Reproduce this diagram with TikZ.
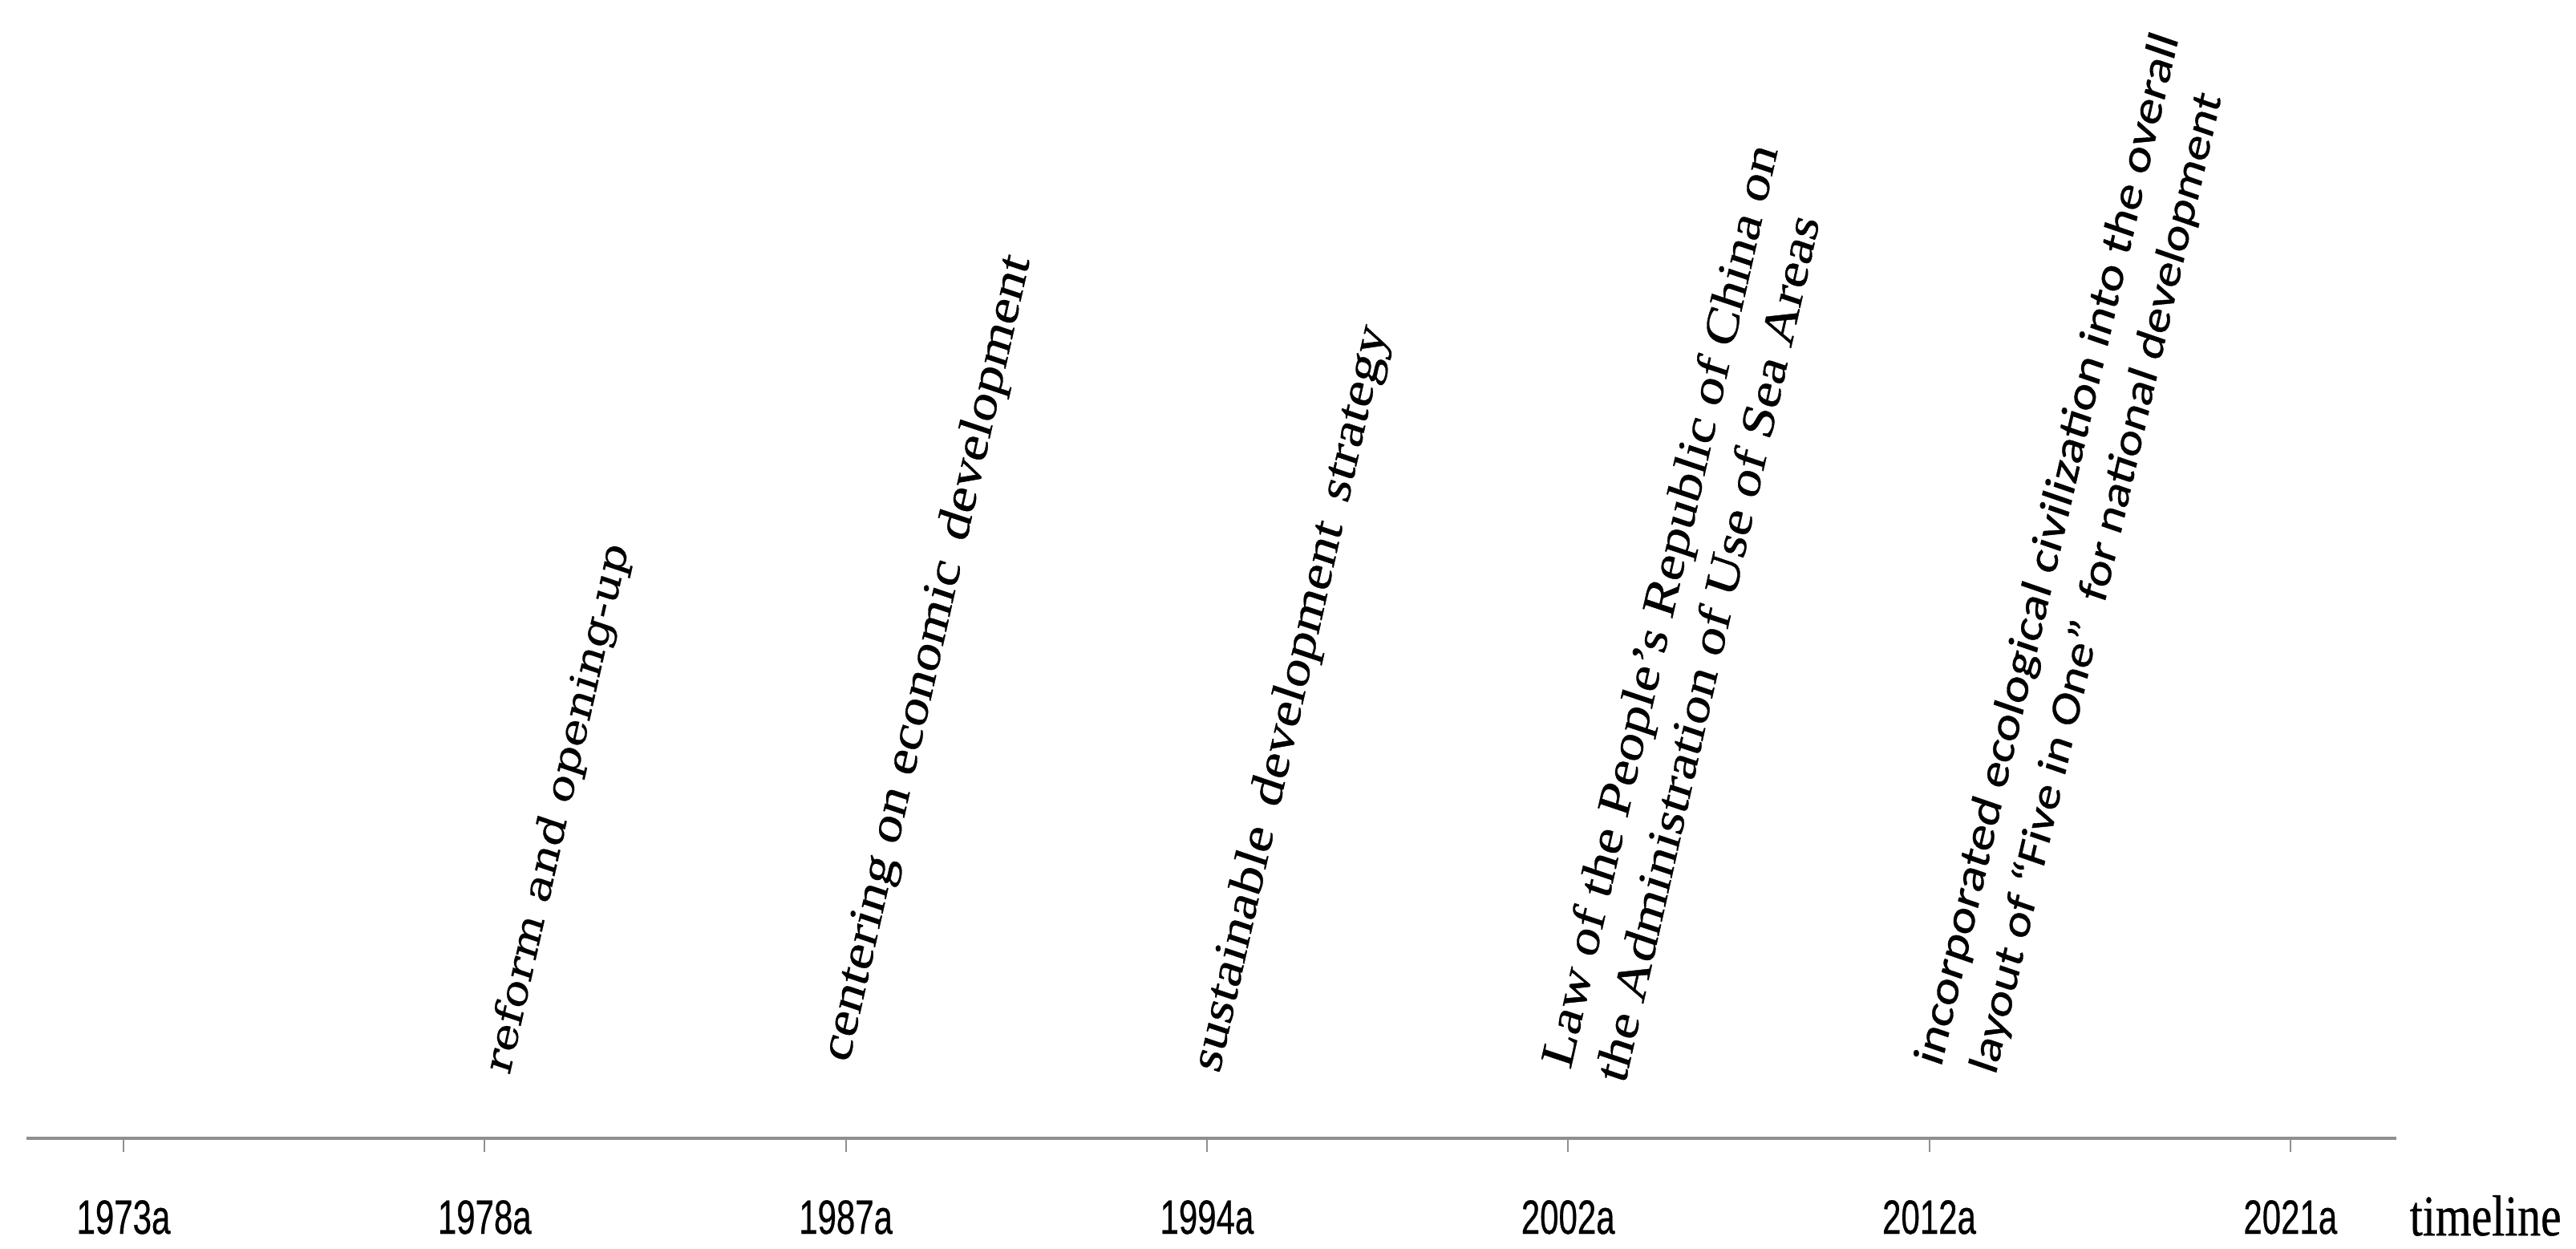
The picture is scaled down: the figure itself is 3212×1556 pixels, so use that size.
\documentclass[tikz,border=0pt]{standalone}
\usepackage{fontspec}
\setmainfont{Liberation Serif}[FakeBold=0.6]
\newfontfamily\yearfont{Liberation Sans}[FakeBold=0.6]
\newfontfamily\calfont{Carlito}[FakeBold=0.6]
\newfontfamily\geofont{DejaVu Serif}[FakeBold=0.4]
\definecolor{axisgray}{HTML}{8F8F8F}
\begin{document}
\begin{tikzpicture}[x=0.25pt,y=-0.25pt,
  axisline/.style={draw=axisgray, line width=1.2pt},
  tickline/.style={draw=axisgray, line width=0.5pt},
  yearlbl/.style={anchor=base, inner sep=0, font=\yearfont\fontsize{15}{18}\selectfont},
  squeeze/.style={xscale=0.82},
  evt/.style={rotate=74.63, transform shape, anchor=base west, inner sep=0, font=\fontsize{17.7}{17.7}\selectfont},
  evtgeo/.style={evt, font=\geofont\fontsize{14.6}{14.6}\selectfont},
  evtcal/.style={evt, rotate=-0.36, font=\calfont\fontsize{16.4}{16.4}\selectfont}
]
\useasboundingbox (0,0) rectangle (3212,1556);
\fill[white] (0,0) rectangle (3212,1556);
% axis
\coordinate (axL) at (33,1419);
\coordinate (axR) at (2988,1419);
\draw[axisline] (axL) -- (axR);
% ticks and years
\foreach \yr [count=\i from 0] in {1973a,1978a,1987a,1994a,2002a,2012a,2021a}{
  \coordinate (t\i) at ({154+450.3*\i},1421);
  \coordinate (tb\i) at ({154+450.3*\i},1436);
  \draw[tickline] (t\i) -- (tb\i);
  \node[yearlbl] (y\i) at ({154+450.3*\i},1538) {\scalebox{0.7}[1]{\yr}};
}
\node[anchor=base west, inner sep=0, font=\fontsize{18}{18}\selectfont] (tl) at (3004,1540) {\scalebox{0.8}[1]{timeline}};
% events
\begin{scope}[shift={(635,1342)}, squeeze]
  \node[evtgeo] (e1) at (0,0) {reform and opening-up};
\end{scope}
\begin{scope}[shift={(1058,1327)}, squeeze]
  \node[evt] (e2) at (0,0) {centering on economic\hspace{0.4em}development};
\end{scope}
\begin{scope}[shift={(1520,1340)}, squeeze]
  \node[evt] (e3) at (0,0) {sustainable\hspace{0.4em}development\hspace{0.4em}strategy};
\end{scope}
\begin{scope}[shift={(1958,1335)}, squeeze]
  \node[evt] (e4a) at (0,0) {Law of the People’s Republic of China on};
\end{scope}
\begin{scope}[shift={(2026,1353)}, squeeze]
  \node[evt] (e4b) at (0,0) {the Administration of Use of Sea Areas};
\end{scope}
\begin{scope}[shift={(2420,1332)}, squeeze]
  \node[evtcal] (e5a) at (0,0) {incorporated ecological civilization into the overall};
\end{scope}
\begin{scope}[shift={(2488,1342)}, squeeze]
  \node[evtcal, font=\calfont\fontsize{15.9}{15.9}\selectfont] (e5b) at (0,0) {layout of “Five in One”\ \ for national development};
\end{scope}
\end{tikzpicture}
\end{document}
